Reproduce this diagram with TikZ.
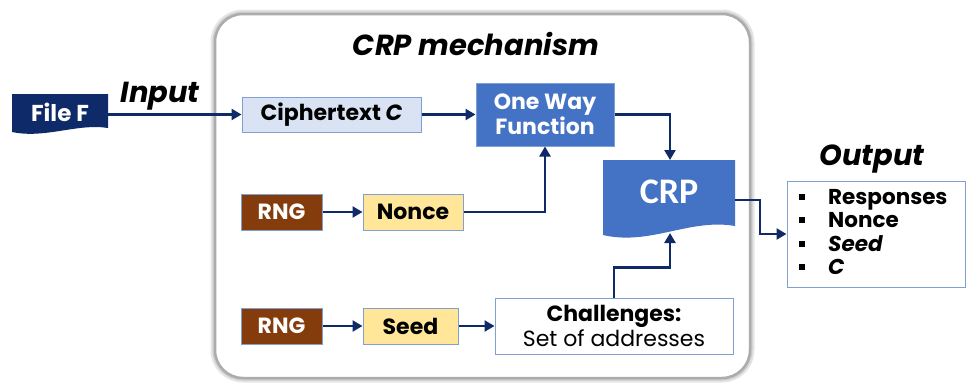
\documentclass[tikz,border=0pt]{standalone}
\usepackage{fontspec}
\setmainfont{Poppins}
\newfontfamily\crpfont{Carlito}
\usetikzlibrary{arrows.meta,calc}

\definecolor{navy}{RGB}{16,42,104}
\definecolor{filefill}{RGB}{14,42,104}
\definecolor{lightblue}{RGB}{218,227,243}
\definecolor{edgeblue}{RGB}{127,159,213}
\definecolor{midblue}{RGB}{68,114,196}
\definecolor{paleyellow}{RGB}{255,230,153}
\definecolor{rngbrown}{RGB}{132,60,12}

\tikzset{
  box/.style={draw=edgeblue, line width=1pt, inner sep=0pt, align=center,
    font=\bfseries\fontsize{22}{25}\selectfont},
  cipherbox/.style={box, fill=lightblue, minimum width=179pt, minimum height=35pt},
  funcbox/.style={box, fill=midblue, text=white, minimum width=138pt, minimum height=63pt},
  rngbox/.style={box, fill=rngbrown, text=white, minimum width=81pt, minimum height=36pt},
  valbox/.style={box, fill=paleyellow, minimum height=36pt},
  whitebox/.style={box, fill=white},
  heading/.style={font=\bfseries\itshape\fontsize{29}{32}\selectfont},
  arrow/.style={draw=navy, line width=2.4pt,
    -{Triangle[length=10pt,width=11pt]}},
}

\begin{document}
\begin{tikzpicture}[x=1pt,y=-1pt]
  \useasboundingbox (0,0) rectangle (966,383);

  % mechanism frame with a soft grey rim
  \draw[gray!20, line width=9pt, rounded corners=28pt] (215,14) rectangle (750,378);
  \draw[gray!40, line width=5pt, rounded corners=28pt] (215,14) rectangle (750,378);
  \draw[gray!65, line width=2.5pt, fill=white, rounded corners=28pt] (215,14) rectangle (750,378);
  \node[heading] (title) at (476,44) {CRP mechanism};

  % input document
  \fill[filefill] (12,94) -- (108,94) -- (108,128)
    .. controls (78,123) and (45,139) .. (12,132) -- cycle;
  \node[text=white, font=\bfseries\fontsize{23}{26}\selectfont] (filef) at (60,112) {File F};
  \coordinate (fileright) at (108,114.5);
  \node[heading] (inlabel) at (160,96) {Input};

  % blocks inside the mechanism
  \node[cipherbox] (cipher) at (331.5,114.5) {Ciphertext \textit{C}};
  \node[funcbox] (owf) at (545,114.5) {One Way\\Function};
  \node[rngbox] (rng1) at (281.5,212) {RNG};
  \node[valbox, minimum width=100pt] (nonce) at (413,212) {Nonce};
  \node[rngbox] (rng2) at (281.5,326) {RNG};
  \node[valbox, minimum width=95pt] (seed) at (410.5,326) {Seed};
  \node[whitebox, minimum width=238pt, minimum height=56pt] (chal) at (614,326)
    {Challenges:\\\mdseries Set of addresses};

  % CRP document shape
  \fill[midblue] (603,160) -- (735,160) -- (735,226)
    .. controls (690,218) and (650,246) .. (603,235) -- cycle;
  \node[text=white, font=\crpfont\bfseries\fontsize{36}{40}\selectfont] (crp) at (669,192) {CRP};
  \coordinate (crptop) at (670,160);
  \coordinate (crpbot) at (670,233);
  \coordinate (crpright) at (735,200);

  % output list
  \node[heading] (outlabel) at (872,159) {Output};
  \node[draw=edgeblue, line width=1pt, fill=white, minimum width=178pt, minimum height=106pt,
    inner sep=0pt] (out) at (876,234) {};
  \node[anchor=west, align=left, inner sep=0pt,
    font=\bfseries\fontsize{21.5}{23.5}\selectfont] (outlist) at (799,232)
    {\rule[0.2em]{6pt}{6pt}\hspace{23pt}Responses\\
     \rule[0.2em]{6pt}{6pt}\hspace{23pt}Nonce\\
     \rule[0.2em]{6pt}{6pt}\hspace{23pt}\textit{Seed}\\
     \rule[0.2em]{6pt}{6pt}\hspace{23pt}\textit{C}};

  % connectors
  \draw[arrow] (fileright) -- (cipher.west);
  \draw[arrow] (cipher.east) -- (owf.west);
  \draw[arrow] (owf.east) -| (crptop);
  \draw[arrow] (rng1.east) -- (nonce.west);
  \draw[arrow] (nonce.east) -| (owf.south);
  \draw[arrow] (rng2.east) -- (seed.west);
  \draw[arrow] (seed.east) -- (chal.west);
  \draw[arrow] (chal.north) -- ++(0,-30) -| (crpbot);
  \draw[arrow] (crpright) -- ++(25,0) |- (out.west);
\end{tikzpicture}
\end{document}
